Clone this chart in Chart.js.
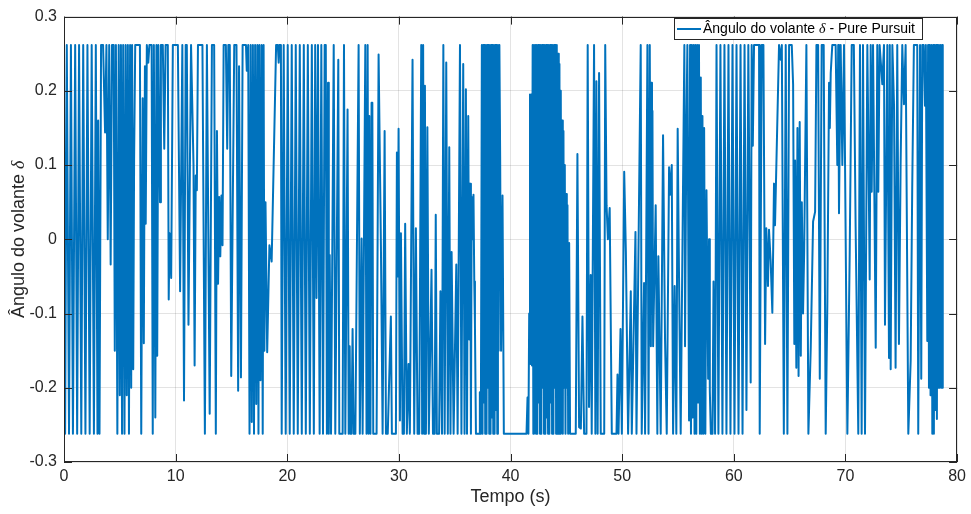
<!DOCTYPE html>
<html><head><meta charset="utf-8">
<script src="https://cdn.jsdelivr.net/npm/chart.js@4.4.1/dist/chart.umd.min.js"></script>
<style>html,body{margin:0;padding:0;background:#fff;}canvas{display:block;}</style>
</head><body>
<canvas id="c" width="971" height="514"></canvas>
<script>
const S = 0.2618; // steering saturation (rad)

// [time (s), delta (rad)]
const seg0 = [[0.00,S],[0.10,-S],[0.25,S],[0.45,-S],[0.62,S],[0.80,-S],[1.00,S],[1.18,-S],[1.35,S],[1.55,-S],[1.72,S],[1.92,-S],[2.10,S],[2.30,-S],[2.48,S],[2.68,-S],[2.85,S],[3.00,-S],[3.06,0.16],[3.18,-S],[3.32,S],[3.50,S],[3.68,0.144],[3.80,S],[3.92,0.0],[4.05,S],[4.18,-0.034],[4.30,S],[4.45,S],[4.55,-0.15],[4.65,S],[4.78,-S],[4.90,S],[5.00,-0.21],[5.10,S],[5.20,-S],[5.30,S],[5.42,-S],[5.52,S],[5.62,-0.21],[5.72,S],[5.82,-S],[5.92,S],[6.02,-0.2],[6.10,S],[6.20,-0.175],[6.28,0.108],[6.38,S],[6.80,S],[6.92,-S],[7.05,0.19],[7.15,-0.14],[7.25,0.233],[7.32,0.021],[7.42,S],[7.55,0.238],[7.65,S],[7.85,S],[7.95,-S],[8.05,S],[8.18,-0.24],[8.28,S],[8.35,-0.157],[8.45,S],[8.60,0.05],[8.68,S],[8.85,S],[8.98,0.122],[9.10,S],[9.30,S],[9.38,-0.081],[9.45,0.008],[9.60,-0.052],[9.75,S],[9.90,S]];
const seg1 = [[10.20,S],[10.40,-0.07],[10.60,S],[10.75,-0.217],[10.90,S],[11.00,S],[11.15,-0.115],[11.28,0.1],[11.38,S],[11.60,0.1],[11.70,-0.17],[11.80,0.086],[11.90,0.066],[12.00,S],[12.40,S],[12.62,-S],[12.80,S],[13.05,-0.235],[13.25,S],[13.45,S],[13.60,-S],[13.70,0.146],[13.80,-0.06],[13.90,0.057],[14.00,-0.023],[14.10,0.059],[14.20,-0.008],[14.30,S],[14.50,S],[14.62,0.122],[14.72,S],[14.85,S],[14.98,-0.184],[15.10,0.017],[15.25,S],[15.45,S],[15.60,-0.204],[15.68,0.233],[15.85,-0.186],[16.00,S],[16.15,S],[16.30,S],[16.37,0.227],[16.50,S],[16.62,-S],[16.72,S],[16.82,-0.246],[16.92,S],[17.02,-S],[17.12,S],[17.22,-0.222],[17.32,S],[17.42,-S],[17.50,S],[17.60,-0.19],[17.70,S],[17.80,-S],[17.88,S],[17.95,-0.15],[18.05,0.05],[18.20,-0.152],[18.40,-0.008],[18.60,-0.03],[19.00,S],[19.15,S],[19.23,0.238],[19.30,S],[19.43,S],[19.50,-S],[19.68,S],[19.86,-S]];
const seg2 = [[20.04,S],[20.22,-S],[20.40,S],[20.58,-S],[20.76,S],[20.94,-S],[21.12,S],[21.30,-S],[21.48,S],[21.66,-S],[21.84,S],[22.02,-S],[22.20,S],[22.38,-S],[22.50,S],[22.62,-0.079],[22.75,S],[22.90,-S],[23.05,S],[23.20,-S],[23.35,S],[23.45,S],[23.55,-S],[23.65,0.211],[23.72,-S],[23.80,-0.021],[23.92,-S],[24.16,S],[24.30,-S],[24.57,0.242],[24.66,-S],[24.96,-S],[25.08,S],[25.20,-S],[25.40,0.175],[25.50,-S],[25.59,-0.144],[25.65,-S],[25.75,-S],[25.85,-0.121],[25.95,-S],[26.10,-S],[26.39,S],[26.50,-S],[26.66,0.001],[26.75,-S],[26.99,S],[27.10,-S],[27.20,S],[27.28,-S],[27.35,0.166],[27.45,-S],[27.55,0.184],[27.62,0.184],[27.70,-S],[28.00,-S],[28.18,0.249],[28.39,-0.012],[28.54,-S],[28.72,0.146],[28.84,-S],[29.00,-S],[29.28,-0.104],[29.37,-S],[29.73,-S],[29.82,0.117],[29.90,-0.05],[29.97,0.149]];
const seg3 = [[30.09,-0.244],[30.18,0.008],[30.33,-S],[30.45,-S],[30.56,0.021],[30.71,-S],[30.86,-0.168],[30.98,-S],[31.22,0.242],[31.37,-S],[31.52,0.015],[31.67,-S],[31.82,-S],[32.00,S],[32.08,-S],[32.17,S],[32.25,-S],[32.33,0.207],[32.42,-S],[32.55,0.151],[32.68,-S],[32.92,-0.041],[33.05,-S],[33.20,-S],[33.30,0.033],[33.40,-S],[33.60,-S],[33.72,-0.07],[33.86,-S],[33.98,S],[34.10,-S],[34.24,0.238],[34.38,-S],[34.51,0.124],[34.62,-S],[34.72,-0.017],[34.90,-S],[35.14,-0.034],[35.26,-S],[35.47,S],[35.60,-S],[35.76,0.236],[35.88,-S],[36.00,0.202],[36.10,-S],[36.21,0.166],[36.30,-0.135],[36.38,0.075],[36.45,-S],[36.52,0.057],[36.60,0.0],[36.68,0.06],[36.75,-0.057],[36.81,-0.115],[36.90,-S],[37.19,-S],[37.25,-0.206],[37.34,-S],[37.43,S],[37.49,-S],[37.55,S],[37.61,-0.22],[37.67,S],[37.73,-S],[37.79,S],[37.85,-S],[37.91,S],[37.97,-0.2],[38.03,S],[38.09,-S],[38.15,S],[38.21,-S],[38.27,S],[38.33,-0.24],[38.39,S],[38.45,-S],[38.51,S],[38.57,-S],[38.63,S],[38.69,-0.23],[38.75,S],[38.81,-S],[38.87,S],[38.93,-0.15],[39.00,S],[39.07,0.108],[39.15,-0.15],[39.28,0.059],[39.40,-S],[39.52,-S]];
const seg4 = [[41.43,-S],[41.52,-0.213],[41.60,-S],[41.67,-0.1],[41.74,0.195],[41.80,-0.168],[41.86,0.195],[41.92,-0.17],[41.98,S],[42.04,-S],[42.10,S],[42.16,-0.2],[42.22,S],[42.28,-S],[42.34,S],[42.40,-S],[42.46,S],[42.52,-0.22],[42.58,S],[42.64,-S],[42.70,S],[42.76,-S],[42.82,S],[42.88,-0.2],[42.94,S],[43.00,-S],[43.06,S],[43.12,-S],[43.18,S],[43.24,-0.24],[43.30,S],[43.36,-S],[43.42,S],[43.48,-S],[43.54,S],[43.60,-0.22],[43.66,S],[43.72,-S],[43.78,S],[43.84,-S],[43.90,S],[43.96,-0.2],[44.02,S],[44.08,-S],[44.14,S],[44.20,-S],[44.26,0.25],[44.32,-S],[44.38,0.236],[44.44,-S],[44.50,0.2],[44.56,-0.22],[44.62,0.16],[44.68,-S],[44.74,0.146],[44.80,-0.2],[44.86,0.1],[44.92,-S],[44.98,0.061],[45.04,-0.2],[45.10,0.046],[45.16,-S],[45.25,-0.005],[45.33,-S],[45.84,-S],[45.99,0.115],[46.14,-0.253],[46.30,-0.255],[46.44,-0.104],[46.59,-S],[46.80,-S],[46.91,S],[47.03,-0.226],[47.18,-0.048],[47.27,-S],[47.48,S],[47.60,-S],[47.69,0.213],[47.80,-S],[47.93,0.224],[48.08,-S],[48.39,-S],[48.48,S],[48.60,0.046],[48.72,0.0],[48.88,0.042],[49.07,-S],[49.49,-S],[49.58,-0.182],[49.67,-S],[49.85,-0.121],[49.97,-S]];
const seg5 = [[50.18,0.091],[50.33,-0.017],[50.53,-S],[50.77,-0.07],[50.86,-S],[51.19,0.01],[51.28,-S],[51.66,S],[51.75,-S],[51.96,-0.059],[52.05,-S],[52.26,S],[52.36,-S],[52.47,S],[52.57,-0.144],[52.62,0.211],[52.67,-0.1],[52.71,0.173],[52.77,-0.144],[53.00,0.046],[53.15,-S],[53.24,-0.023],[53.45,-S],[53.66,0.14],[53.84,-0.137],[53.99,-S],[54.20,0.097],[54.29,0.06],[54.44,0.1],[54.56,-S],[54.70,-0.063],[54.85,-S],[54.97,0.149],[55.09,-0.048],[55.24,-S],[55.57,S],[55.63,-0.144],[55.75,0.149],[55.84,S],[55.99,-0.244],[56.08,S],[56.16,-S],[56.24,S],[56.32,-0.24],[56.40,S],[56.48,-S],[56.56,S],[56.64,-S],[56.72,S],[56.80,-0.22],[56.88,S],[56.96,-S],[57.04,0.218],[57.12,-S],[57.19,0.166],[57.27,-S],[57.34,0.15],[57.45,-S],[57.55,0.066],[57.70,-0.188],[57.78,0.0],[57.85,-0.204],[57.94,-S],[58.09,-S],[58.18,-0.057],[58.32,-S],[58.45,S],[58.62,-S],[58.80,S],[58.98,-S],[59.16,S],[59.34,-S],[59.52,S],[59.70,-S],[59.88,S]];
const seg6 = [[60.06,-S],[60.24,S],[60.42,-S],[60.60,S],[60.78,-S],[60.96,S],[61.13,-0.23],[61.30,S],[61.51,-0.193],[61.60,S],[61.70,0.126],[61.81,S],[62.26,S],[62.32,-S],[62.50,S],[62.65,S],[62.80,-0.141],[62.91,0.015],[63.06,-0.063],[63.15,0.013],[63.30,-0.03],[63.45,-0.099],[63.60,0.075],[63.69,0.019],[64.05,S],[64.20,0.242],[64.30,S],[64.48,-S],[64.65,S],[64.80,-S],[64.95,S],[65.19,S],[65.31,0.209],[65.42,-0.141],[65.49,0.106],[65.60,-0.173],[65.70,0.15],[65.80,-0.184],[65.90,0.158],[66.00,-0.157],[66.09,0.05],[66.20,-0.1],[66.30,-0.017],[66.50,S],[66.68,-S],[66.89,-0.146],[67.10,0.024],[67.28,0.037],[67.40,S],[67.55,S],[67.70,-0.188],[67.87,S],[68.05,S],[68.23,-S],[68.38,-0.083],[68.53,0.211],[68.60,0.15],[68.68,0.224],[68.82,S],[69.12,S],[69.27,0.1],[69.35,S],[69.42,0.035],[69.57,S],[69.72,0.1],[69.87,S]];
const seg7 = [[70.17,-S],[70.38,-0.019],[70.56,S],[70.75,S],[70.91,0.017],[71.15,-S],[71.30,S],[71.45,-S],[71.57,S],[71.75,-S],[71.96,S],[72.05,0.135],[72.17,-0.054],[72.26,S],[72.35,0.064],[72.47,S],[72.71,-0.146],[72.85,S],[72.94,0.064],[73.06,S],[73.30,0.209],[73.45,S],[73.54,-0.115],[73.75,S],[73.90,-0.16],[73.97,S],[74.05,-0.175],[74.20,S],[74.35,0.18],[74.49,-0.173],[74.64,S],[74.79,-0.141],[74.94,0.1],[75.09,S],[75.24,0.182],[75.39,S],[75.63,-S],[75.84,-0.164],[75.98,0.07],[76.13,S],[76.43,S],[76.52,-S],[76.68,S],[76.79,-0.188],[76.88,S],[77.00,S],[77.12,0.18],[77.20,S],[77.33,-0.137],[77.40,S],[77.48,-0.2],[77.55,S],[77.62,-0.21],[77.70,S],[77.78,-S],[77.86,S],[77.92,-S],[78.00,S],[78.06,-0.23],[78.13,S],[78.19,-0.242],[78.25,S],[78.31,-0.2],[78.37,S],[78.45,-0.2],[78.52,S],[78.60,-0.2],[78.67,S],[78.70,-0.2],[78.73,0.024]];

const xTickValues = [0,10,20,30,40,50,60,70,80];
const yTickValues = [-0.3,-0.2,-0.1,0,0.1,0.2,0.3];
const xTitle = 'Tempo (s)';
const yTitleParts = ['Ângulo do volante ', 'δ'];
const legendParts = ['Ângulo do volante ', 'δ', ' - Pure Pursuit'];
const seriesLabel = legendParts.join('');

const points = [...seg0, ...seg1, ...seg2, ...seg3, ...seg4, ...seg5, ...seg6, ...seg7].map(([x, y]) => ({x, y}));

const AX = '#262626';
const FONT = '"Liberation Sans", Arial, Helvetica, sans-serif';
const LINE = '#0072BD';

const decor = {
  id: 'decor',
  afterDraw(chart) {
    const ctx = chart.ctx, a = chart.chartArea;
    const xs = chart.scales.x, ys = chart.scales.y;
    ctx.save();
    ctx.strokeStyle = AX; ctx.lineWidth = 1;
    ctx.strokeRect(Math.round(a.left) + 0.5, Math.round(a.top) + 0.5, Math.round(a.right - a.left) - 1, Math.round(a.bottom - a.top) - 1);
    const TL = 8;
    ctx.beginPath();
    xTickValues.forEach(v => {
      const px = Math.round(xs.getPixelForValue(v)) + 0.5;
      ctx.moveTo(px, a.bottom); ctx.lineTo(px, a.bottom - TL);
      ctx.moveTo(px, a.top); ctx.lineTo(px, a.top + TL);
    });
    yTickValues.forEach(v => {
      const py = Math.round(ys.getPixelForValue(v)) + 0.5;
      ctx.moveTo(a.left, py); ctx.lineTo(a.left + TL, py);
      ctx.moveTo(a.right, py); ctx.lineTo(a.right - TL, py);
    });
    ctx.stroke();
    // y title
    ctx.save();
    ctx.translate(19, (a.top + a.bottom) / 2);
    ctx.rotate(-Math.PI / 2);
    ctx.fillStyle = AX; ctx.textBaseline = 'middle';
    const f1 = '18px ' + FONT, f2 = 'italic 18px "Liberation Serif", "DejaVu Serif", serif';
    ctx.font = f1; const w1 = ctx.measureText(yTitleParts[0]).width;
    ctx.font = f2; const w2 = ctx.measureText(yTitleParts[1]).width;
    const x0 = -(w1 + w2) / 2;
    ctx.font = f1; ctx.textAlign = 'left'; ctx.fillText(yTitleParts[0], x0, 0);
    ctx.font = f2; ctx.fillText(yTitleParts[1], x0 + w1, 0);
    ctx.restore();
    // legend
    const bx = 674.5, by = 18.5, bw = 248, bh = 21;
    ctx.fillStyle = '#fff'; ctx.fillRect(bx, by, bw, bh);
    ctx.strokeStyle = AX; ctx.lineWidth = 1; ctx.strokeRect(bx, by, bw, bh);
    const cy = by + bh / 2;
    ctx.strokeStyle = LINE; ctx.lineWidth = 2;
    ctx.beginPath(); ctx.moveTo(677, cy); ctx.lineTo(701, cy); ctx.stroke();
    ctx.fillStyle = '#000'; ctx.textBaseline = 'middle'; ctx.textAlign = 'left';
    const lf = '14px ' + FONT, lfi = 'italic 14px "Liberation Serif", "DejaVu Serif", serif';
    let tx = 703;
    ctx.font = lf; ctx.fillText(legendParts[0], tx, cy); tx += ctx.measureText(legendParts[0]).width;
    ctx.font = lfi; ctx.fillText(legendParts[1], tx, cy); tx += ctx.measureText(legendParts[1]).width;
    ctx.font = lf; ctx.fillText(legendParts[2], tx, cy);
    ctx.restore();
  }
};

new Chart(document.getElementById('c'), {
  type: 'line',
  data: { datasets: [{ label: seriesLabel, data: points, borderColor: LINE, borderWidth: 2, borderJoinStyle: 'round', pointRadius: 0, tension: 0, fill: false }] },
  options: {
    responsive: false, animation: false, devicePixelRatio: 1,
    layout: { padding: { left: 0, right: 13, top: 14, bottom: 0 } },
    plugins: { legend: { display: false }, tooltip: { enabled: false } },
    scales: {
      x: {
        type: 'linear', min: 0, max: 80,
        afterBuildTicks: s => { s.ticks = xTickValues.map(v => ({ value: v })); },
        afterFit: s => { s.height = 52; },
        ticks: { color: AX, font: { family: FONT, size: 16 }, padding: 5, maxRotation: 0, callback: v => String(v) },
        grid: { color: 'rgba(38,38,38,0.13)', drawTicks: false },
        border: { display: false },
        title: { display: true, text: xTitle, color: AX, font: { family: FONT, size: 18 }, padding: { top: 0, bottom: 6 } }
      },
      y: {
        min: -0.3, max: 0.3,
        afterBuildTicks: s => { s.ticks = yTickValues.map(v => ({ value: v })); },
        afterFit: s => { s.width = 64; },
        ticks: { color: AX, font: { family: FONT, size: 16 }, padding: 7, callback: v => String(Math.round(v * 10) / 10) },
        grid: { color: 'rgba(38,38,38,0.13)', drawTicks: false },
        border: { display: false }
      }
    }
  },
  plugins: [decor]
});
</script>
</body></html>
